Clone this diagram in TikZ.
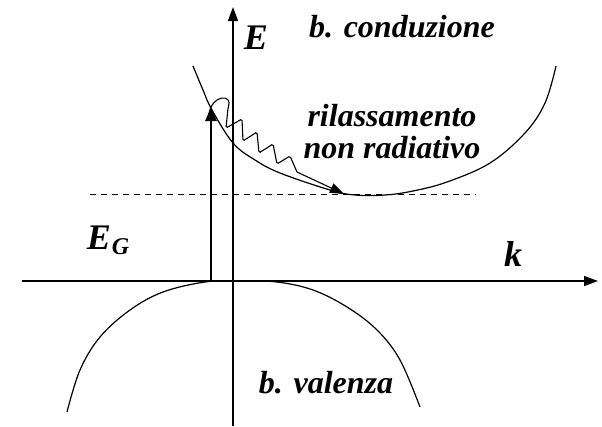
\documentclass[tikz,border=0pt]{standalone}
\usepackage{fontspec}
\setmainfont{Liberation Serif}
\usetikzlibrary{arrows.meta}
\tikzset{
  axis/.style={line width=1.5pt,-{Triangle[length=14pt,width=10pt]}},
  band/.style={line width=1.2pt},
  lbl/.style={font=\fontsize{32}{36}\selectfont\bfseries\itshape, inner sep=0pt},
  mlbl/.style={font=\fontsize{36}{40}\selectfont\bfseries\itshape, inner sep=0pt},
}
\begin{document}
\begin{tikzpicture}[x=1pt,y=-1pt]
\useasboundingbox (0,0) rectangle (602,426);
% axes
\coordinate (kL) at (22,281);
\coordinate (kR) at (598,281);
\coordinate (eB) at (233,426);
\coordinate (eT) at (233,7);
\draw[axis] (kL) -- (kR);
\draw[axis] (eB) -- (eT);
% dashed gap line
\coordinate (dL) at (90,194.5);
\coordinate (dR) at (476,194.5);
\draw[line width=1pt, dash pattern=on 6pt off 5pt] (dL) -- (dR);
% conduction band
\draw[band] plot[smooth, tension=0.6] coordinates {(193,66) (203,90) (212,110) (233,143) (255,160) (280,173) (330,190) (355,195) (385,195) (413,191) (447,182) (490,163) (525,133) (545,103) (556,66)};
% valence band
\draw[band] plot[smooth, tension=0.6] coordinates {(67,412) (80,370) (100,337) (130,310) (163,292) (205,282) (240,281) (277,282) (313,290) (347,307) (377,330) (400,360) (420,407)};
% optical excitation arrow
\coordinate (vA) at (211,281);
\coordinate (vB) at (211,107);
\draw[line width=2.5pt,-{Triangle[length=14pt,width=11pt]}] (vA) -- (vB);
% non radiative relaxation
\coordinate (cMin) at (344,194);
\draw[line width=1.1pt, rounded corners=1.5pt] (209,114) .. controls (212,94) and (233,94) .. (228,108)
  -- (226,128) -- (242,119) -- (243,141) -- (257,132) -- (259,153) -- (273,144) -- (277,164) -- (290,156) -- (297,172);
\draw[line width=1.1pt,-{Triangle[length=14pt,width=10pt]}] (297,172) -- (cMin);
% labels
\node[mlbl] (E) at (256,38) {E};
\node[mlbl] (k) at (513,254) {k};
\node[mlbl] (EG) at (108,240) {E\kern1pt\raisebox{-5pt}{\fontsize{24}{26}\selectfont G}};
\node[lbl] (cond) at (402,27) {b. conduzione};
\node[lbl] (val) at (326,383) {b. valenza};
\node[lbl, align=center] (rel) at (392,132) {rilassamento\\[-4pt]non radiativo};
\end{tikzpicture}
\end{document}
